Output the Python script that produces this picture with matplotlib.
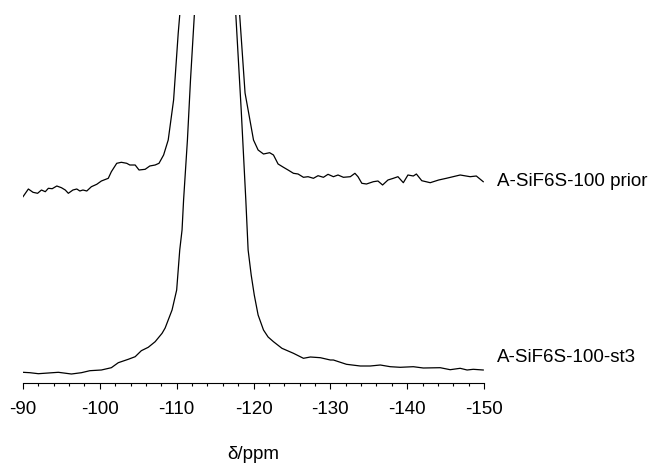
import numpy as np
import matplotlib
matplotlib.use("Agg")
import matplotlib.pyplot as plt

plt.rcParams['font.family'] = ['Liberation Sans', 'DejaVu Sans']

# chemical shift (ppm) and intensity
prior_ppm = [-90.0, -90.7, -91.3, -91.9, -92.4, -92.9, -93.3, -93.8, -94.4, -95.0,
             -95.5, -95.9, -96.5, -97.0, -97.4, -97.8, -98.3, -98.9, -99.6, -100.2,
             -101.1, -101.5, -102.2, -102.8, -103.5, -103.9, -104.6, -105.1, -105.9, -106.5,
             -107.2, -107.7, -108.3, -108.9, -109.6, -109.9, -110.2, -110.4,
             -114.9,
             -118.2, -118.9, -119.3, -120.0, -120.6, -121.3, -122.1, -122.6, -123.2, -123.9,
             -124.5, -125.2, -125.8, -126.5, -127.1, -127.8, -128.4, -129.1, -129.7, -130.4,
             -131.0, -131.7, -132.6, -133.2, -133.6, -134.1, -134.7, -135.6, -136.2, -136.8,
             -137.5, -138.2, -138.8, -139.5, -140.1, -140.8, -141.2, -141.9, -143.0, -144.1,
             -145.1, -146.9, -148.2, -149.0, -149.9]
prior_int = [-3.7, 4.0, 0.7, -0.3, 3.0, 1.3, 4.7, 4.3, 7.0, 5.3,
             3.0, -0.3, 3.0, 4.0, 2.0, 3.0, 2.0, 6.3, 8.7, 12.0,
             14.7, 21.3, 29.7, 30.7, 29.7, 28.0, 28.0, 23.0, 23.7, 27.0,
             28.0, 29.7, 38.0, 53.0, 93.0, 126.3, 159.7, 178.0,
             1500.0,
             178.0, 100.0, 83.0, 53.0, 43.0, 39.0, 40.3, 38.0, 29.0, 25.7,
             23.0, 19.7, 19.0, 15.7, 16.3, 14.7, 17.3, 15.7, 18.7, 16.3,
             18.0, 15.7, 16.3, 19.7, 16.3, 9.7, 9.0, 11.3, 12.0, 8.0,
             13.0, 14.7, 16.3, 10.3, 18.0, 17.0, 19.0, 12.3, 10.3, 13.0,
             14.7, 18.0, 16.3, 17.0, 11.3]

st3_ppm = [-90.0, -90.9, -92.0, -93.3, -94.6, -96.3, -97.6, -98.7, -100.2, -101.5,
           -102.4, -103.7, -104.6, -105.4, -106.3, -107.2, -108.1, -108.5, -109.4, -110.0,
           -110.4, -110.7, -110.9, -111.4, -111.8, -112.3,
           -115.3,
           -117.7, -118.4, -119.0, -119.3, -119.7, -120.1, -120.6, -121.3, -121.9, -122.6,
           -123.7, -125.2, -126.5, -127.4, -128.7, -130.0, -130.4, -132.1, -133.9, -135.2,
           -136.5, -137.8, -139.1, -140.8, -142.1, -144.3, -145.6, -146.9, -147.8, -148.6,
           -149.9]
st3_int = [0.7, 0.3, -0.7, 0.0, 0.7, -1.0, 0.3, 2.3, 3.0, 5.3,
           10.3, 13.7, 16.3, 22.3, 25.7, 31.3, 39.7, 45.0, 63.0, 83.0,
           123.0, 143.0, 173.0, 233.0, 293.0, 358.0,
           4000.0,
           358.0, 263.0, 173.0, 123.0, 98.0, 78.0, 58.0, 43.0, 36.0, 31.3,
           24.7, 19.7, 14.7, 16.0, 15.3, 13.0, 13.0, 8.7, 7.0, 7.0,
           8.0, 6.3, 5.7, 6.3, 5.0, 5.3, 3.3, 4.7, 3.0, 3.7,
           3.0]

prior_offset = 190
st3_offset = 10
labels = ["A-SiF6S-100 prior", "A-SiF6S-100-st3"]

fig = plt.figure(figsize=(6.51, 4.63), dpi=100)
ax = fig.add_axes([23 / 651, 80 / 463, 461 / 651, 368 / 463])

ax.plot(prior_ppm, np.array(prior_int) + prior_offset, color='black', lw=0.9)
ax.plot(st3_ppm, np.array(st3_int) + st3_offset, color='black', lw=0.9)

ax.set_xlim(-90, -150)
ax.set_ylim(0, 368)

ax.text(-151.7, prior_offset + 12, labels[0], fontsize=13.5, va='center', ha='left', clip_on=False)
ax.text(-151.7, st3_offset + 16, labels[1], fontsize=13.5, va='center', ha='left', clip_on=False)

for s in ['left', 'right', 'top']:
    ax.spines[s].set_visible(False)
ax.spines['bottom'].set_linewidth(0.8)
ax.set_yticks([])
ax.set_xticks(np.arange(-90, -151, -10))
ax.set_xticks(np.arange(-90, -151, -2), minor=True)
ax.set_xticklabels([str(v) for v in range(-90, -151, -10)])
ax.tick_params(axis='x', which='major', direction='out', length=4, width=0.8, labelsize=13.5, pad=9)
ax.tick_params(axis='x', which='minor', direction='out', length=2.4, width=0.8)
ax.set_xlabel("δ/ppm", fontsize=13.5, labelpad=20)

fig.savefig("out.png", dpi=100)
